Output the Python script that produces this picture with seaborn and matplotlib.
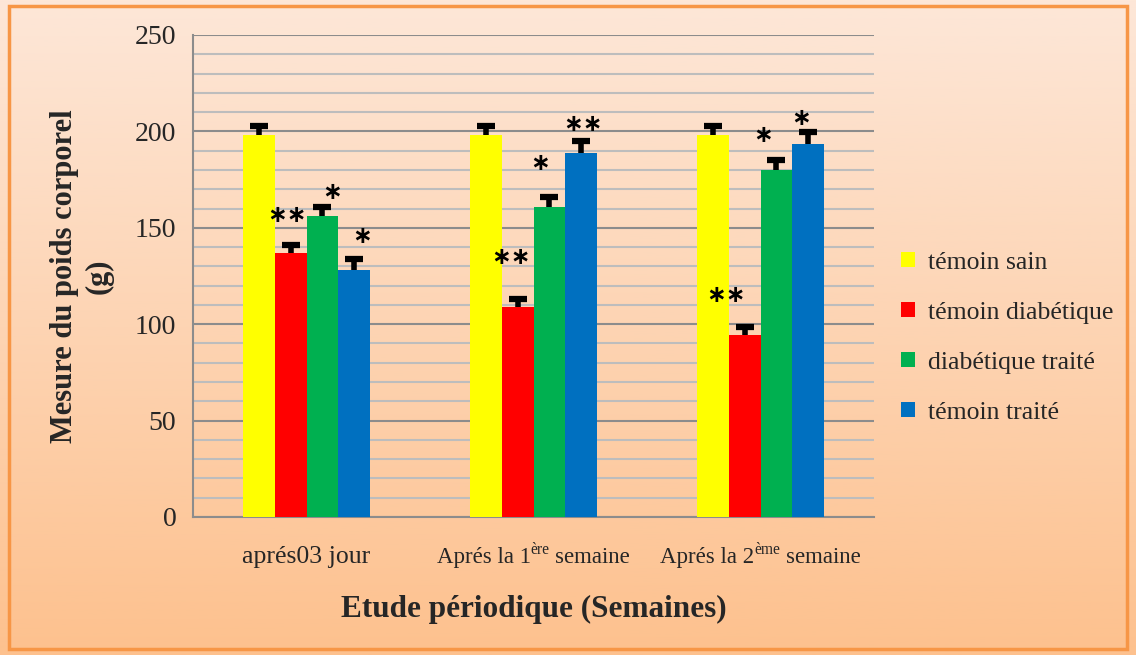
import numpy as np
import pandas as pd
import matplotlib.pyplot as plt
import seaborn as sns
from matplotlib.patches import Rectangle
from matplotlib.colors import LinearSegmentedColormap

# Data
periods = ["aprés03 jour", "Aprés la 1ère semaine", "Aprés la 2ème semaine"]
label_main = ["aprés03 jour", "Aprés la 1", "Aprés la 2"]
label_sup = ["", "ère", "ème"]
label_tail = ["", "semaine", "semaine"]
groups = ["témoin sain", "témoin diabétique", "diabétique traité", "témoin traité"]
temoin_sain = [198, 198, 198]
temoin_diabetique = [137, 109, 94.5]
diabetique_traite = [156, 161, 180]
temoin_traite = [128, 189, 193.5]
err_sain = [5, 5, 5]
err_diab = [4, 4, 4]
err_diab_traite = [5, 5, 5]
err_traite = [6, 6, 6]
# significance marks per period (group order)
stars = [["", "**", "*", "*"], ["", "**", "*", "**"], ["", "**", "*", "*"]]
star_y = [[0, 156.5, 168.5, 146], [0, 135, 183.5, 204], [0, 115, 198, 207]]
star_dx = [[0, -0.017, 0.044, 0.035], [0, -0.03, -0.04, 0.01], [0, -0.08, -0.057, -0.03]]
colors = ["#FFFF00", "#FF0000", "#00B050", "#0070C0"]

values = [temoin_sain, temoin_diabetique, diabetique_traite, temoin_traite]
errors = [err_sain, err_diab, err_diab_traite, err_traite]
rows = []
for g, vals, errs in zip(groups, values, errors):
    for p, v, e in zip(periods, vals, errs):
        rows.append({"periode": p, "groupe": g, "poids": v, "err": e})
df = pd.DataFrame(rows)

sns.set_style("white")
plt.rcParams["font.family"] = ["Liberation Serif", "DejaVu Serif"]

fig = plt.figure(figsize=(11.36, 6.55), dpi=100)

# gradient background + orange frame
bg = fig.add_axes([0, 0, 1, 1], zorder=-10)
cmap = LinearSegmentedColormap.from_list("bg", ["#FDE7D8", "#FDC18E"])
bg.imshow(np.linspace(0, 1, 256).reshape(-1, 1), aspect="auto", cmap=cmap,
          extent=[0, 1, 0, 1], origin="upper")
bg.add_patch(Rectangle((9 / 1136, 6 / 655), 1118 / 1136, 643 / 655,
                       fill=False, edgecolor="#F79646", lw=2.5,
                       transform=bg.transAxes))
bg.set_xlim(0, 1)
bg.set_ylim(0, 1)
bg.axis("off")

ax = fig.add_axes([193 / 1136, 1 - 517 / 655, (874 - 193) / 1136, 482 / 655])
ax.patch.set_alpha(0)

sns.barplot(data=df, x="periode", y="poids", hue="groupe", order=periods,
            hue_order=groups, palette=colors, width=0.56, errorbar=None,
            saturation=1, linewidth=0, ax=ax, zorder=3)

# error bars (upper only, T shape) and significance stars
bars = ax.patches[:len(groups) * len(periods)]
for gi, g in enumerate(groups):
    for pi, p in enumerate(periods):
        bar = bars[gi * len(periods) + pi]
        x = bar.get_x() + bar.get_width() / 2
        v = values[gi][pi]
        e = errors[gi][pi]
        ax.vlines(x, v, v + e, color="black", lw=4, zorder=4)
        ax.plot([x], [v + e], marker="_", ms=13, mew=4.5, color="black", zorder=4)
        s = stars[pi][gi]
        if s:
            ax.text(x + star_dx[pi][gi], star_y[pi][gi], s.replace("*", "∗"),
                    ha="center", va="center", fontsize=17, fontweight="bold",
                    family="DejaVu Sans", color="black", zorder=5)

ax.set_ylim(0, 250)
ax.set_xlim(-0.5, 2.5)
ax.set_yticks(range(0, 251, 50))
ax.set_yticks(range(0, 251, 10), minor=True)
ax.grid(which="minor", axis="y", color="#BDBDBD", lw=1.5, zorder=0)
ax.grid(which="major", axis="y", color="#8C8C8C", lw=1.5, zorder=1)
ax.tick_params(axis="y", which="major", length=7, color="#8C8C8C", width=1.5,
               labelsize=20, pad=5)
ax.tick_params(axis="y", which="minor", length=0)
ax.set_xticks(range(len(periods)))
ax.set_xticklabels([""] * len(periods))
ax.tick_params(axis="x", length=0)
ax.set_xlabel("")
for side in ["top", "right"]:
    ax.spines[side].set_visible(False)
for side in ["left", "bottom"]:
    ax.spines[side].set_color("#8C8C8C")
    ax.spines[side].set_linewidth(1.5)

# category labels with superscripts, built from pieces
renderer = fig.canvas.get_renderer()
label_sizes = [18.5, 16.5, 16.5]
for i in range(len(periods)):
    cx = ax.transData.transform((i, 0))[0]
    fs = label_sizes[i]
    pieces = [(label_main[i], fs, 0), (label_sup[i], fs * 0.68, 9),
              (label_tail[i], fs, 0)]
    items = []
    for k, (txt, size, dy) in enumerate(pieces):
        if not txt:
            continue
        t = fig.text(0, 0, txt, transform=None, fontsize=size,
                     ha="left", va="baseline")
        gap = size * 0.25 * 100 / 72 if k == 2 else 0
        items.append((t, t.get_window_extent(renderer).width, dy, gap))
    total = sum(w + gp for _, w, _, gp in items)
    x = cx - total / 2
    for t, w, dy, gp in items:
        x += gp
        t.set_position((x, 92 + dy))
        x += w

fig.text((193 + 874) / 2 / 1136, 1 - 609 / 655, "Etude périodique (Semaines)",
         fontsize=22.5, fontweight="bold", ha="center", va="center")
ax.set_ylabel("Mesure du poids corporel\n(g)", fontsize=22, fontweight="bold",
              labelpad=15, linespacing=1.25)

ax.legend(loc="center left", bbox_to_anchor=(1.005, 0.372), frameon=False,
          fontsize=18.5, handlelength=0.55, handleheight=0.55, handletextpad=0.5,
          labelspacing=1.09)

fig.savefig("out.png", dpi=100)
